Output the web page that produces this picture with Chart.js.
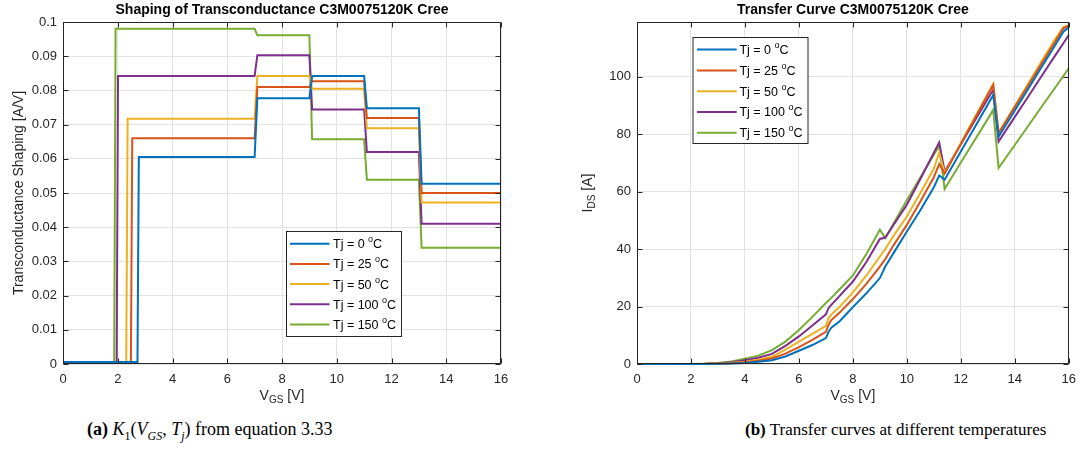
<!DOCTYPE html>
<html>
<head>
<meta charset="utf-8">
<script src="https://cdn.jsdelivr.net/npm/chart.js@4.4.1/dist/chart.umd.min.js"></script>
<style>
  body { margin: 0; background: #fff; width: 1084px; height: 460px; position: relative; overflow: hidden; }
  .panel { position: absolute; top: 0; width: 542px; height: 412px; }
  #panelA { left: 0; }
  #panelB { left: 542px; }
  .cap { position: absolute; top: 420px; font-family: "Liberation Serif", "DejaVu Serif", serif; font-size: 17px; color: #000; white-space: nowrap; }
  .cap sub { font-size: 12px; }
  #capA { left: 87px; top: 419px; font-size: 18px; }
  #capB { left: 745px; }
</style>
</head>
<body>
<div class="panel" id="panelA"><canvas id="k1Chart" width="542" height="412"></canvas></div>
<div class="panel" id="panelB"><canvas id="transferChart" width="542" height="412"></canvas></div>
<div class="cap" id="capA"><b>(a)</b> <i>K</i><sub>1</sub>(<i>V</i><sub><i>GS</i></sub>, <i>T</i><sub><i>j</i></sub>) from equation 3.33</div>
<div class="cap" id="capB"><b>(b)</b> Transfer curves at different temperatures</div>

<script>
// ---- data ----
const temps = [0, 25, 50, 100, 150];
const lineColors = ['#0072BD', '#D95319', '#EDB120', '#7E2F8E', '#77AC30'];

// (a) transconductance shaping K1: step levels per V_GS band
const k1StepEdges = [7, 9, 11, 13];               // band boundaries [V]
const k1Onset = [2.77, 2.53, 2.36, 2.01, 1.92];   // where K1 leaves zero [V]
const k1Off = 0.0006;                             // level below the onset
const k1_T0   = [0.0605, 0.0777, 0.0842, 0.0748, 0.0527];
const k1_T25  = [0.0660, 0.0810, 0.0827, 0.0719, 0.0500];
const k1_T50  = [0.0717, 0.0842, 0.0805, 0.0689, 0.0472];
const k1_T100 = [0.0842, 0.0903, 0.0744, 0.0620, 0.0410];
const k1_T150 = [0.0980, 0.0961, 0.0657, 0.0539, 0.0340];
const k1Levels = [k1_T0, k1_T25, k1_T50, k1_T100, k1_T150];

// (b) transfer curves I_DS(V_GS)
const vgs = [0, 1, 2, 2.5, 3, 3.5, 4, 4.5, 5, 5.5, 6, 6.5, 7, 7.1, 7.2, 7.5, 8, 8.5, 9, 9.2,
             9.5, 10, 10.5, 11, 11.2, 11.4, 12, 12.5, 13, 13.2, 13.4, 14, 14.5, 15, 15.5, 15.8, 16];
const ids_T0   = [0, 0, 0, 0.02, 0.08, 0.18, 0.35, 0.8, 1.3, 2.6, 4.6, 6.6, 9.0, 11.2, 12.6, 14.8, 19.8, 24.6, 29.9, 33.9,
                  38.5, 46.1, 53.5, 61.5, 65.6, 64.1, 73.9, 82.1, 90.3, 93.6, 79.1, 88.2, 95.8, 103.4, 111.0, 115.6, 117.2];
const ids_T25  = [0, 0, 0, 0.03, 0.12, 0.3, 0.6, 1.1, 1.9, 3.6, 5.9, 8.4, 11.2, 13.7, 15.3, 17.8, 22.6, 27.9, 33.9, 36.5,
                  41.2, 48.4, 56.5, 65.0, 69.6, 66.2, 76.5, 85.1, 93.7, 97.1, 80.3, 89.4, 97.0, 104.6, 112.2, 116.8, 117.7];
const ids_T50  = [0, 0, 0, 0.05, 0.18, 0.4, 0.8, 1.5, 2.5, 5.0, 7.8, 10.5, 13.3, 16.0, 17.2, 19.8, 24.9, 30.8, 37.4, 40.0,
                  44.5, 51.3, 59.5, 68.0, 73.6, 66.5, 76.9, 85.5, 94.1, 97.5, 80.5, 89.8, 97.6, 105.4, 113.2, 117.3, 117.8];
const ids_T100 = [0, 0, 0, 0.06, 0.25, 0.6, 1.3, 2.2, 3.5, 6.3, 9.6, 13.4, 17.3, 19.5, 20.6, 23.6, 28.7, 35.5, 43.5, 44.0,
                  48.3, 55.4, 64.4, 73.5, 77.1, 67.0, 76.5, 84.4, 92.3, 95.4, 77.4, 86.0, 93.1, 100.3, 107.4, 111.6, 114.5];
const ids_T150 = [0, 0, 0, 0.1, 0.35, 0.9, 1.8, 2.9, 4.8, 7.8, 11.8, 16.4, 21.2, 22.1, 23.0, 25.9, 30.8, 38.3, 46.7, 43.8,
                  48.8, 57.0, 64.9, 72.8, 75.9, 60.9, 70.1, 77.7, 85.3, 88.4, 68.2, 76.2, 82.9, 89.6, 96.2, 100.2, 102.9];
const idsSeries = [ids_T0, ids_T25, ids_T50, ids_T100, ids_T150];

const xTicks = [0, 2, 4, 6, 8, 10, 12, 14, 16];

// ---- helpers ----
const FONT = '"Liberation Sans", Arial, Helvetica, sans-serif';
const INK = '#262626';

function k1Points(onset, levels) {
  const pts = [{ x: 0, y: k1Off }, { x: onset - 0.05, y: k1Off }, { x: onset, y: levels[0] }];
  k1StepEdges.forEach((edge, i) => {
    pts.push({ x: edge, y: levels[i] });
    pts.push({ x: edge + 0.1, y: levels[i + 1] });
  });
  pts.push({ x: 16, y: levels[levels.length - 1] });
  return pts;
}

// draw a run of text pieces (for sub/superscripts), centred on cx
function drawRich(ctx, parts, cx, cy) {
  let w = 0;
  parts.forEach(p => { ctx.font = `${p.bold ? 'bold ' : ''}${p.size}px ${FONT}`; w += ctx.measureText(p.t).width; });
  let x = cx - w / 2;
  ctx.textBaseline = 'middle';
  ctx.textAlign = 'left';
  parts.forEach(p => {
    ctx.font = `${p.bold ? 'bold ' : ''}${p.size}px ${FONT}`;
    ctx.fillText(p.t, x, cy + (p.dy || 0));
    x += ctx.measureText(p.t).width;
  });
}
function drawRichLeft(ctx, parts, x, cy) {
  ctx.textBaseline = 'middle';
  ctx.textAlign = 'left';
  parts.forEach(p => {
    ctx.font = `${p.size}px ${FONT}`;
    ctx.fillText(p.t, x, cy + (p.dy || 0));
    x += ctx.measureText(p.t).width;
  });
}

const matlabLook = {
  id: 'matlabLook',
  afterDatasetsDraw(chart, args, o) {
    const { ctx, chartArea: a, scales: { x, y } } = chart;
    const L = Math.round(a.left) + 0.5, R = Math.round(a.right) - 0.5;
    const T = Math.round(a.top) + 0.5, B = Math.round(a.bottom) - 0.5;
    ctx.save();
    ctx.strokeStyle = INK;
    ctx.lineWidth = 1;
    ctx.beginPath();
    x.ticks.forEach(t => {
      const px = Math.round(x.getPixelForValue(t.value)) + 0.5;
      ctx.moveTo(px, B); ctx.lineTo(px, B - 5);
      ctx.moveTo(px, T); ctx.lineTo(px, T + 5);
    });
    y.ticks.forEach(t => {
      const py = Math.round(y.getPixelForValue(t.value)) + 0.5;
      ctx.moveTo(L, py); ctx.lineTo(L + 5, py);
      ctx.moveTo(R, py); ctx.lineTo(R - 5, py);
    });
    ctx.stroke();
    ctx.strokeRect(L, T, R - L, B - T);
    ctx.restore();
  },
  afterDraw(chart, args, o) {
    const { ctx, chartArea: a } = chart;
    const cx = (a.left + a.right) / 2, cy = (a.top + a.bottom) / 2;
    ctx.save();
    ctx.fillStyle = '#000';
    drawRich(ctx, [{ t: o.title, size: 14, bold: true }], cx, 10.5);
    ctx.fillStyle = INK;
    drawRich(ctx, [{ t: 'V', size: 14 }, { t: 'GS', size: 10, dy: 4 }, { t: ' [V]', size: 14 }], cx, 396);
    ctx.save();
    ctx.translate(o.yLabelX, cy);
    ctx.rotate(-Math.PI / 2);
    drawRich(ctx, o.yLabel, 0, 0);
    ctx.restore();

    // legend box
    const lg = o.legend;
    ctx.fillStyle = '#fff';
    ctx.fillRect(lg.x, lg.y, lg.w, lg.h);
    ctx.strokeStyle = INK;
    ctx.lineWidth = 1;
    ctx.strokeRect(lg.x + 0.5, lg.y + 0.5, lg.w, lg.h);
    chart.data.datasets.forEach((ds, i) => {
      const ry = lg.row0 + i * lg.rowGap;
      ctx.strokeStyle = ds.borderColor;
      ctx.lineWidth = 2;
      ctx.beginPath();
      ctx.moveTo(lg.lineX0, ry);
      ctx.lineTo(lg.lineX1, ry);
      ctx.stroke();
      ctx.fillStyle = '#000';
      drawRichLeft(ctx, [{ t: `Tj = ${temps[i]} `, size: 12.5 }, { t: 'o', size: 9, dy: -5 }, { t: 'C', size: 12.5 }], lg.textX, ry + 1);
    });
    ctx.restore();
  }
};

function baseOptions(cfg) {
  return {
    responsive: false,
    animation: false,
    layout: { padding: { left: 0, right: cfg.padRight, top: 22, bottom: 0 } },
    elements: { point: { radius: 0 }, line: { borderWidth: 2, tension: 0 } },
    plugins: {
      legend: { display: false },
      tooltip: { enabled: false },
      matlabLook: cfg.look
    },
    scales: {
      x: {
        type: 'linear', min: 0, max: 16,
        afterBuildTicks: s => { s.ticks = xTicks.map(v => ({ value: v })); },
        afterFit: s => { s.height = 48; },
        ticks: { font: { family: FONT, size: 13 }, color: INK, padding: 8, maxRotation: 0 },
        grid: { color: '#e3e3e3', drawTicks: false },
        border: { display: false }
      },
      y: {
        type: 'linear', min: 0, max: cfg.yMax,
        afterFit: s => { s.width = cfg.yWidth; },
        ticks: { stepSize: cfg.yStep, includeBounds: false, font: { family: FONT, size: 13 }, color: INK, padding: 6,
                 callback: v => String(+v.toFixed(3)) },
        grid: { color: '#e3e3e3', drawTicks: false },
        border: { display: false }
      }
    }
  };
}

new Chart(document.getElementById('k1Chart'), {
  type: 'line',
  data: {
    datasets: k1Levels.map((lv, i) => ({
      label: `Tj = ${temps[i]} °C`,
      data: k1Points(k1Onset[i], lv),
      borderColor: lineColors[i],
      clip: 2
    }))
  },
  options: baseOptions({
    padRight: 41, yWidth: 63, yMax: 0.1, yStep: 0.01,
    look: {
      title: 'Shaping of Transconductance C3M0075120K Cree',
      yLabel: [{ t: 'Transconductance Shaping [A/V]', size: 14 }],
      yLabelX: 19,
      legend: { x: 286, y: 231, w: 115, h: 105, row0: 243.7, rowGap: 20.2, lineX0: 290, lineX1: 329.5, textX: 333 }
    }
  }),
  plugins: [matlabLook]
});

new Chart(document.getElementById('transferChart'), {
  type: 'line',
  data: {
    datasets: idsSeries.map((ys, i) => ({
      label: `Tj = ${temps[i]} °C`,
      data: vgs.map((v, j) => ({ x: v, y: ys[j] })),
      borderColor: lineColors[i],
      clip: 2
    }))
  },
  options: baseOptions({
    padRight: 9, yWidth: 95, yMax: 119, yStep: 20,
    look: {
      title: 'Transfer Curve C3M0075120K Cree',
      yLabel: [{ t: 'I', size: 14 }, { t: 'DS', size: 10, dy: 4 }, { t: ' [A]', size: 14 }],
      yLabelX: 46,
      legend: { x: 150.5, y: 37, w: 115, h: 106, row0: 49.6, rowGap: 20.8, lineX0: 155, lineX1: 194.7, textX: 197.4 }
    }
  }),
  plugins: [matlabLook]
});
</script>
</body>
</html>
